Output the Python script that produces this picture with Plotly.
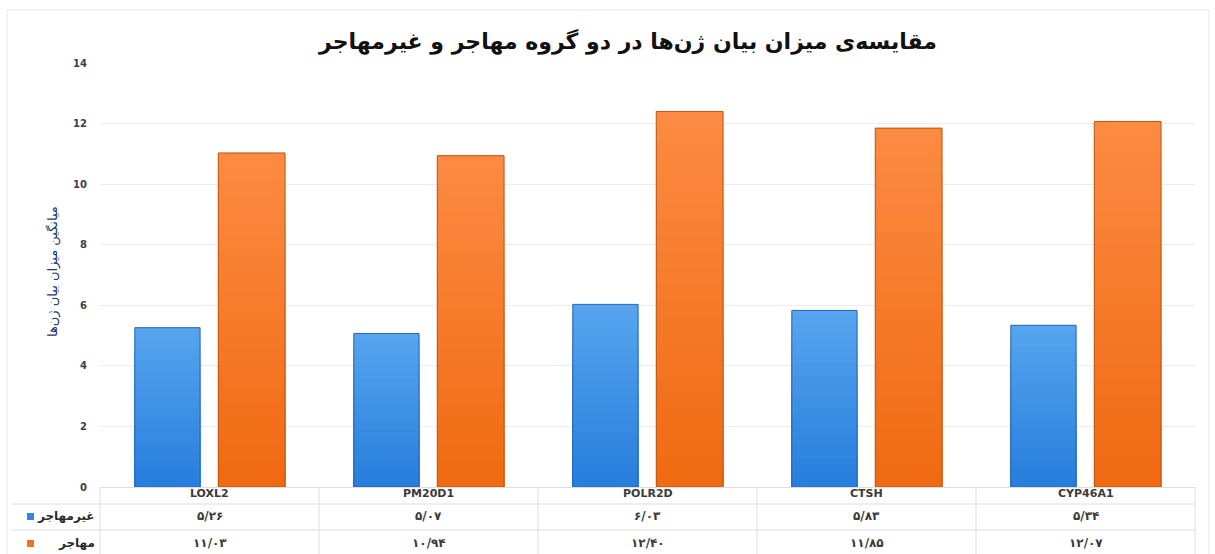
import plotly.graph_objects as go

# Data
genes = ["LOXL2", "PM20D1", "POLR2D", "CTSH", "CYP46A1"]
non_migrant = [5.26, 5.07, 6.03, 5.83, 5.34]
migrant = [11.03, 10.94, 12.40, 11.85, 12.07]
series_names = ["غیرمهاجر", "مهاجر"]
y_ticks = [0, 2, 4, 6, 8, 10, 12, 14]
title_text = "مقایسه‌ی میزان بیان ژن‌ها در دو گروه مهاجر و غیرمهاجر"
y_title = "میانگین میزان بیان ژن‌ها"

# Page geometry (pixels)
W, H = 1215, 554
L, R, T, B = 100, 20, 63, 67
PW, PH = W - L - R, H - T - B
BOTTOM_PX = H - B


def px_x(px):
    return (px - L) / PW


def px_y(py):
    return (BOTTOM_PX - py) / PH


def fa_num(v):
    return f"{v:.2f}".translate(str.maketrans("0123456789.", "۰۱۲۳۴۵۶۷۸۹/"))


def mix(c1, c2, t):
    return "rgb({},{},{})".format(*[round(a + (b - a) * t) for a, b in zip(c1, c2)])


FONT = "DejaVu Sans"
styles = [
    # (top colour, bottom colour, outline, offset, width)
    ((86, 164, 238), (40, 126, 220), "#2463b8", -0.341, 0.298),
    ((252, 138, 66), (240, 106, 18), "#b8560f", 0.040, 0.305),
]
key_colors = ["#2f86dc", "#f2711c"]

fig = go.Figure()
N = 24
for values, (top, bot, edge, off, wid) in zip([non_migrant, migrant], styles):
    # vertical gradient built from overlaid bars, tallest (lightest) first
    for k in range(N):
        frac = (N - k) / N
        fig.add_trace(go.Bar(
            x=genes, y=[v * frac for v in values],
            offset=off, width=wid,
            marker=dict(color=mix(top, bot, k / (N - 1)), line=dict(width=0)),
            hoverinfo="skip", showlegend=False,
        ))
    fig.add_trace(go.Bar(
        x=genes, y=values, offset=off, width=wid,
        marker=dict(color="rgba(0,0,0,0)", line=dict(color=edge, width=1)),
        hoverinfo="skip", showlegend=False,
    ))

annotations = []
shapes = []

# Title
annotations.append(dict(
    text=f"<b>{title_text}</b>", x=px_x(627), y=px_y(41), xref="paper", yref="paper",
    showarrow=False, font=dict(family=FONT, size=22, color="#111111"),
    xanchor="center", yanchor="middle",
))
# Y axis title
annotations.append(dict(
    text=y_title, x=px_x(53), y=px_y(272), xref="paper", yref="paper",
    showarrow=False, textangle=-90, font=dict(family=FONT, size=13, color="#1f3a68"),
    xanchor="center", yanchor="middle",
))

# Data table below the plot
header_y, row_ys = 493, [516, 543]
for g in genes:
    annotations.append(dict(
        text=f"<b>{g}</b>", x=g, y=px_y(header_y), xref="x", yref="paper",
        showarrow=False, font=dict(family=FONT, size=11, color="#3a3a3a"),
        xanchor="center", yanchor="middle",
    ))
for row_y, name, values, kc in zip(row_ys, series_names, [non_migrant, migrant], key_colors):
    annotations.append(dict(
        text=f"<b>{name}</b>", x=px_x(97), y=px_y(row_y), xref="paper", yref="paper",
        showarrow=False, font=dict(family=FONT, size=12, color="#2a2a2a"),
        xanchor="right", yanchor="middle",
    ))
    shapes.append(dict(
        type="rect", xref="paper", yref="paper",
        x0=px_x(27), x1=px_x(34), y0=px_y(row_y + 4), y1=px_y(row_y - 3),
        fillcolor=kc, line=dict(width=0),
    ))
    for g, v in zip(genes, values):
        annotations.append(dict(
            text=f"<b>{fa_num(v)}</b>", x=g, y=px_y(row_y), xref="x", yref="paper",
            showarrow=False, font=dict(family=FONT, size=12, color="#3a3a3a"),
            xanchor="center", yanchor="middle",
        ))

grid_col = "#dedede"
for py in [504, 530]:
    shapes.append(dict(type="line", xref="paper", yref="paper",
                       x0=px_x(12), x1=1, y0=px_y(py), y1=px_y(py),
                       line=dict(color=grid_col, width=1)))
for i in range(len(genes) + 1):
    xp = i / len(genes)
    shapes.append(dict(type="line", xref="paper", yref="paper",
                       x0=xp, x1=xp, y0=0, y1=px_y(H),
                       line=dict(color=grid_col, width=1)))

# Outer chart frame
shapes.append(dict(type="rect", xref="paper", yref="paper",
                   x0=px_x(7), x1=px_x(1209), y0=px_y(H + 5), y1=px_y(10),
                   line=dict(color="#e6e6e6", width=1), fillcolor="rgba(0,0,0,0)",
                   layer="below"))

fig.update_layout(
    width=W, height=H,
    margin=dict(l=L, r=R, t=T, b=B),
    paper_bgcolor="white", plot_bgcolor="white",
    barmode="overlay",
    showlegend=False,
    annotations=annotations,
    shapes=shapes,
    xaxis=dict(showticklabels=False, ticks="", showgrid=False, zeroline=False,
               showline=True, linecolor=grid_col, linewidth=1),
    yaxis=dict(range=[0, 14], tickvals=y_ticks, showgrid=True, gridcolor="#ededed",
               gridwidth=1, zeroline=False, showline=False, ticks="",
               ticklabelstandoff=12,
               tickfont=dict(family=FONT, size=10, color="#404040", weight="bold")),
)

fig.write_html("out.html")
